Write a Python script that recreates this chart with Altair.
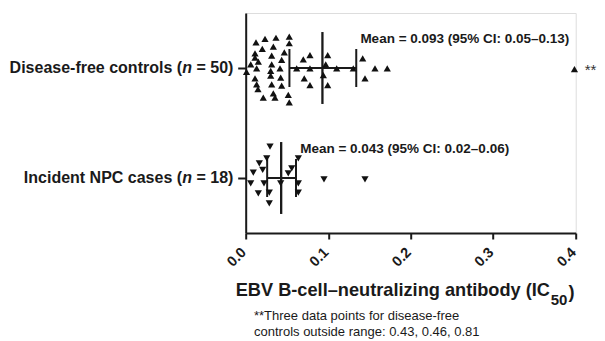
import altair as alt
import pandas as pd

# ---------------- data ----------------
groups = ["Disease-free controls", "Incident NPC cases"]
group_n = [50, 18]
group_pos = [2, 1]
group_shape = ["triangle-up", "triangle-down"]

control_values = [0.0234, 0.0367, 0.0528, 0.0125, 0.0335, 0.0528, 0.0201, 0.0113,
                  0.0315, 0.0468, 0.0113, 0.0061, 0.0153, 0.0315, 0.0436, 0.0010,
                  0.0133, 0.0303, 0.0416, 0.0113, 0.0303, 0.0424, 0.0133, 0.0315,
                  0.0436, 0.0149, 0.0213, 0.0335, 0.0355, 0.0516, 0.0528, 0.0618,
                  0.0698, 0.0779, 0.0779, 0.0710, 0.0779, 0.0994, 0.0970, 0.0941,
                  0.1103, 0.0994, 0.1304, 0.1418, 0.1446, 0.1567, 0.1716, 0.3985]
control_jitter = [0.264, 0.275, 0.285, 0.234, 0.194, 0.225, 0.173, 0.134,
                  0.112, 0.143, 0.094, 0.034, 0.057, 0.034, 0.073, -0.036,
                  -0.003, -0.027, -0.003, -0.094, -0.070, -0.088, -0.148, -0.148,
                  -0.161, -0.191, -0.270, -0.230, -0.270, -0.245, -0.312, -0.003,
                  0.079, 0.118, -0.003, -0.094, -0.155, 0.118, 0.034, -0.064,
                  -0.003, -0.155, -0.003, 0.088, -0.094, -0.003, -0.003, -0.010]

case_values = [0.0295, 0.0255, 0.0165, 0.0206, 0.0092, 0.0061, 0.0222, 0.0153, 0.0286,
               0.0286, 0.0424, 0.0516, 0.0558, 0.0638, 0.0638, 0.0638, 0.0949, 0.1446]
case_jitter = [0.285, 0.179, 0.134, 0.073, 0.048, -0.048, -0.048, -0.139, -0.134,
               -0.230, -0.048, 0.043, 0.088, 0.179, -0.048, -0.134, -0.012, -0.012]

means = [0.093, 0.043]
ci_low = [0.053, 0.026]
ci_high = [0.134, 0.061]
mean_labels = ["Mean = 0.093 (95% CI: 0.05–0.13)", "Mean = 0.043 (95% CI: 0.02–0.06)"]

x_ticks = [0.0, 0.1, 0.2, 0.3, 0.4]
x_title = "EBV B-cell–neutralizing antibody (IC"
x_title_sub = "50"
footnote = ["**Three data points for disease-free",
            "controls outside range: 0.43, 0.46, 0.81"]
outside_marker = "**"

FONT = "Liberation Sans"
INK = "#1a1a1a"

# ---------------- tables ----------------
pts = pd.DataFrame({
    "value": control_values + case_values,
    "y": [group_pos[0] + j for j in control_jitter] + [group_pos[1] + j for j in case_jitter],
    "shape": [group_shape[0]] * len(control_values) + [group_shape[1]] * len(case_values),
})

MEAN_HALF = 0.327
WHISK_HALF = 0.173
summ = pd.DataFrame({
    "pos": group_pos, "mean": means, "lo": ci_low, "hi": ci_high, "label": mean_labels,
})
summ["m_lo"] = summ["pos"] - MEAN_HALF
summ["m_hi"] = summ["pos"] + MEAN_HALF
summ["w_lo"] = summ["pos"] - WHISK_HALF
summ["w_hi"] = summ["pos"] + WHISK_HALF
summ["tx"] = summ["hi"] + 0.005
summ["ty"] = summ["pos"] + 0.265

lab = pd.DataFrame({
    "pos": group_pos,
    "left": [g + " (" for g in groups],
    "mid": ["n"] * 2,
    "right": [f"= {n})" for n in group_n],
})

xs = alt.Scale(domain=[0, 0.4], nice=False, zero=False)
ys = alt.Scale(domain=[0.5, 2.5], nice=False, zero=False)

x_axis = alt.Axis(values=x_ticks, format=".1f", labelAngle=-45, labelAlign="right",
                  labelBaseline="middle", labelFontSize=14.5, labelFontWeight="bold",
                  labelFont=FONT, labelColor=INK, labelPadding=11, labelOffset=-2,
                  tickSize=6, tickWidth=2, tickColor=INK, domainWidth=2,
                  domainColor=INK, grid=False, title=None)
y_axis = alt.Axis(values=group_pos, labels=False, tickSize=8, tickWidth=2,
                  tickColor=INK, domainWidth=2, domainColor=INK, grid=False,
                  title=None)

points = alt.Chart(pts).mark_point(filled=True, size=52, color="#111", opacity=1).encode(
    x=alt.X("value:Q", scale=xs, axis=x_axis),
    y=alt.Y("y:Q", scale=ys, axis=y_axis),
    shape=alt.Shape("shape:N", scale=None),
)

base = alt.Chart(summ)
mean_rule = base.mark_rule(strokeWidth=2.3, color=INK).encode(
    x="mean:Q", y=alt.Y("m_lo:Q", scale=ys), y2="m_hi:Q")
lo_rule = base.mark_rule(strokeWidth=2, color=INK).encode(
    x="lo:Q", y=alt.Y("w_lo:Q", scale=ys), y2="w_hi:Q")
hi_rule = base.mark_rule(strokeWidth=2, color=INK).encode(
    x="hi:Q", y=alt.Y("w_lo:Q", scale=ys), y2="w_hi:Q")
h_rule = base.mark_rule(strokeWidth=2, color=INK).encode(
    x="lo:Q", x2="hi:Q", y=alt.Y("pos:Q", scale=ys))
mean_text = base.mark_text(align="left", baseline="middle", fontSize=13.5,
                           fontWeight="bold", font=FONT, color=INK).encode(
    x="tx:Q", y=alt.Y("ty:Q", scale=ys), text="label:N")

lb = alt.Chart(lab)
lab_right = lb.mark_text(align="right", baseline="middle", fontSize=16,
                         fontWeight="bold", font=FONT, color=INK).encode(
    x=alt.value(-12.3), y=alt.Y("pos:Q", scale=ys), text="right:N")
lab_mid = lb.mark_text(align="right", baseline="middle", fontSize=16,
                       fontWeight="bold", fontStyle="italic", font=FONT, color=INK).encode(
    x=alt.value(-53.6), y=alt.Y("pos:Q", scale=ys), text="mid:N")
lab_left = lb.mark_text(align="right", baseline="middle", fontSize=16,
                        fontWeight="bold", font=FONT, color=INK).encode(
    x=alt.value(-63.6), y=alt.Y("pos:Q", scale=ys), text="left:N")

one = pd.DataFrame({"t": [x_title], "s": [x_title_sub], "p": [")"], "a": [outside_marker],
                    "f1": [footnote[0]], "f2": [footnote[1]]})
oc = alt.Chart(one)
title_main = oc.mark_text(align="right", baseline="alphabetic", fontSize=18.2,
                          fontWeight="bold", font=FONT, color=INK).encode(
    x=alt.value(304.3), y=alt.value(283), text="t:N")
title_sub = oc.mark_text(align="left", baseline="alphabetic", fontSize=15,
                         fontWeight="bold", font=FONT, color=INK).encode(
    x=alt.value(305), y=alt.value(292), text="s:N")
title_par = oc.mark_text(align="left", baseline="alphabetic", fontSize=18.2,
                         fontWeight="bold", font=FONT, color=INK).encode(
    x=alt.value(322.7), y=alt.value(285), text="p:N")
star = oc.mark_text(align="left", baseline="alphabetic", fontSize=15,
                    font=FONT, color="#333").encode(
    x=alt.value(339), y=alt.value(62), text="a:N")
foot1 = oc.mark_text(align="left", baseline="middle", fontSize=13,
                     font=FONT, color=INK).encode(
    x=alt.value(8.3), y=alt.value(303), text="f1:N")
foot2 = oc.mark_text(align="left", baseline="middle", fontSize=13,
                     font=FONT, color=INK).encode(
    x=alt.value(8.3), y=alt.value(318.7), text="f2:N")

chart = alt.layer(
    h_rule, lo_rule, hi_rule, mean_rule, points, mean_text,
    lab_left, lab_mid, lab_right,
    title_main, title_sub, title_par, star, foot1, foot2,
).properties(
    width=330, height=220,
    autosize=alt.AutoSizeParams(type="none"),
    padding={"left": 237.7, "top": 5, "right": 21.3, "bottom": 108},
).configure_view(stroke=None).configure(background="white")

chart.save("out.html", embed_options={"renderer": "svg", "actions": False})
